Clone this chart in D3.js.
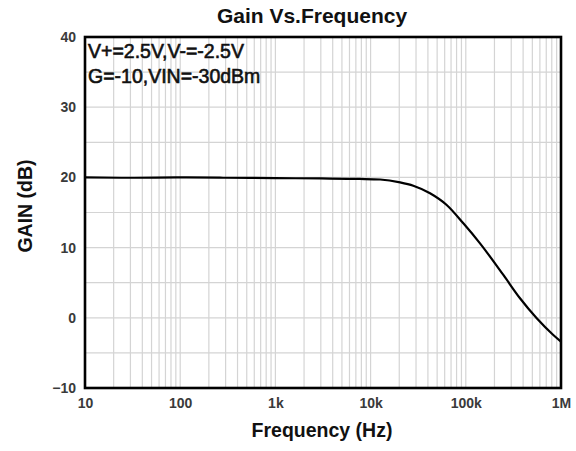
<!DOCTYPE html>
<html>
<head>
<meta charset="utf-8">
<script src="https://cdn.jsdelivr.net/npm/d3@7"></script>
<style>
body { margin: 0; background: #fff; }
text { font-family: "Liberation Sans", Arial, sans-serif; }
</style>
</head>
<body>
<div id="chart"></div>
<script>
// curve
var freqs = [10, 30, 100, 300, 1000, 3000, 7700, 12600, 20400, 28100, 42100, 63000, 94200, 141000, 248000, 371000, 556000, 830000, 1000000];
var gains = [20.0, 19.95, 20.0, 19.95, 19.9, 19.85, 19.78, 19.7, 19.3, 18.82, 17.74, 16.07, 13.46, 10.61, 6.1, 2.78, -0.07, -2.45, -3.4];

var xTicks = [10, 100, 1000, 10000, 100000, 1000000];
var xTickLabels = ["10", "100", "1k", "10k", "100k", "1M"];
var yTicks = [-10, 0, 10, 20, 30, 40];
var notes = ["V+=2.5V,V-=-2.5V", "G=-10,VIN=-30dBm"];

var svgWidth = 576;
var svgHeight = 451;
var margin = {top: 37, right: 15, bottom: 63, left: 85};
var width = svgWidth - margin.left - margin.right;
var height = svgHeight - margin.top - margin.bottom;

var svg = d3.select("#chart")
    .append("svg")
    .attr("width", svgWidth)
    .attr("height", svgHeight);

var chartGroup = svg.append("g")
    .attr("transform", `translate(${margin.left}, ${margin.top})`);

var x = d3.scaleLog().domain([10, 1e6]).range([0, width]);
var y = d3.scaleLinear().domain([-10, 40]).range([height, 0]);

// grid: minor log lines
var minor = [];
for (var dec = 10; dec < 1e6; dec *= 10) {
    for (var m = 2; m <= 9; m++) minor.push(dec * m);
}
chartGroup.append("g")
    .selectAll("line")
    .data(minor.concat(xTicks))
    .enter()
    .append("line")
    .attr("x1", d => x(d)).attr("x2", d => x(d))
    .attr("y1", 0).attr("y2", height)
    .attr("stroke", "#d4d4d4")
    .attr("stroke-width", 1.2);

chartGroup.append("g")
    .selectAll("line")
    .data(d3.range(-10, 41, 5))
    .enter()
    .append("line")
    .attr("x1", 0).attr("x2", width)
    .attr("y1", d => y(d)).attr("y2", d => y(d))
    .attr("stroke", "#d4d4d4")
    .attr("stroke-width", 1.2);

// axes
var bottomAxis = d3.axisBottom(x).tickValues(xTicks)
    .tickFormat((d, i) => xTickLabels[i]).tickSize(0).tickPadding(10);
var leftAxis = d3.axisLeft(y).tickValues(yTicks).tickSize(0).tickPadding(9);

var xAxis = chartGroup.append("g")
    .attr("transform", `translate(0, ${height})`)
    .call(bottomAxis);
var yAxis = chartGroup.append("g").call(leftAxis);

[xAxis, yAxis].forEach(function(a) {
    a.select(".domain").remove();
    a.selectAll("text")
        .attr("font-family", "Liberation Sans, Arial, sans-serif")
        .attr("font-size", 14)
        .attr("font-weight", "bold")
        .attr("fill", "#3a3a3a");
});

// curve
var line = d3.line()
    .x((d, i) => x(freqs[i]))
    .y(d => y(d))
    .curve(d3.curveMonotoneX);

chartGroup.append("path")
    .datum(gains)
    .attr("d", line)
    .attr("fill", "none")
    .attr("stroke", "#000")
    .attr("stroke-width", 2.2);

// frame
chartGroup.append("rect")
    .attr("x", 0).attr("y", 0)
    .attr("width", width).attr("height", height)
    .attr("fill", "none")
    .attr("stroke", "#000")
    .attr("stroke-width", 2.6);

// notes
chartGroup.selectAll(".note")
    .data(notes)
    .enter()
    .append("text")
    .attr("x", 3)
    .attr("y", (d, i) => 21 + i * 25)
    .attr("font-size", 19.5)
    .attr("fill", "#111")
    .attr("stroke", "#111")
    .attr("stroke-width", 0.6)
    .text(d => d);

// title + labels
svg.append("text")
    .attr("x", 312).attr("y", 23)
    .attr("text-anchor", "middle")
    .attr("font-size", 21)
    .attr("font-weight", "bold")
    .attr("fill", "#111")
    .text("Gain Vs.Frequency");

svg.append("text")
    .attr("x", 322).attr("y", 437)
    .attr("text-anchor", "middle")
    .attr("font-size", 19.5)
    .attr("font-weight", "bold")
    .attr("fill", "#111")
    .text("Frequency (Hz)");

svg.append("text")
    .attr("transform", "translate(32, 206) rotate(-90)")
    .attr("text-anchor", "middle")
    .attr("font-size", 19.5)
    .attr("font-weight", "bold")
    .attr("fill", "#111")
    .text("GAIN (dB)");
</script>
</body>
</html>
